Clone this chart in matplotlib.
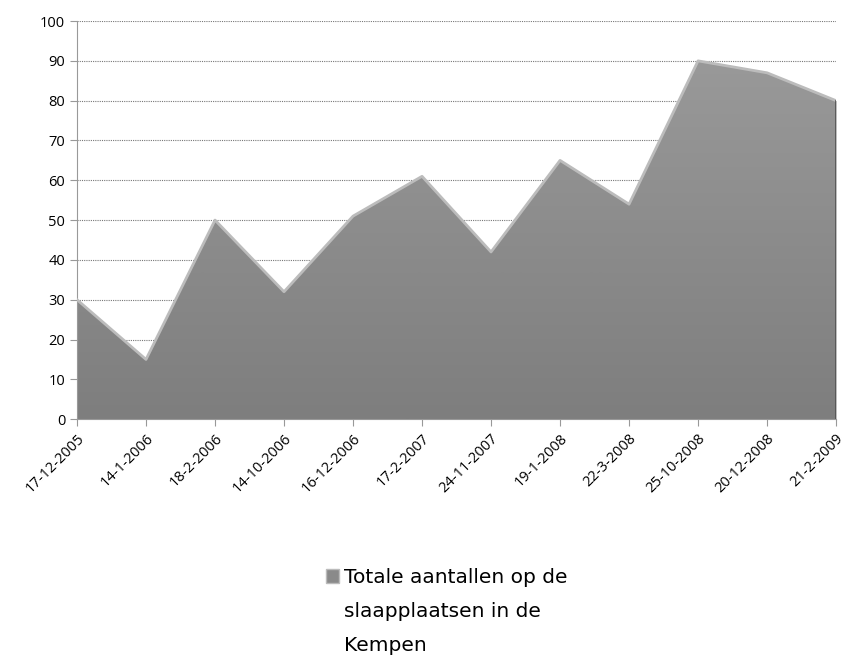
import numpy as np
import matplotlib.pyplot as plt
from matplotlib.patches import Patch
from matplotlib.colors import LinearSegmentedColormap

# Data
dates = ["17-12-2005", "14-1-2006", "18-2-2006", "14-10-2006", "16-12-2006", "17-2-2007",
         "24-11-2007", "19-1-2008", "22-3-2008", "25-10-2008", "20-12-2008", "21-2-2009"]
totals = [30, 15, 50, 32, 51, 61, 42, 65, 54, 90, 87, 80]
legend_lines = ["Totale aantallen op de", "slaapplaatsen in de", "Kempen"]

plt.rcParams['font.family'] = ['Open Sans', 'DejaVu Sans']

fig = plt.figure(figsize=(8.5, 6.58), dpi=100)
ax = fig.add_axes([0.0906, 0.363, 0.893, 0.605])

x = np.arange(len(dates))

# Area with a soft grey gradient clipped to the filled shape
greys = LinearSegmentedColormap.from_list("area", ["#7e7e7e", "#9c9c9c"])
area = ax.fill_between(x, totals, 0, color="#8c8c8c", lw=0, zorder=2)
grad = np.linspace(0, 1, 256).reshape(-1, 1)
img = ax.imshow(grad, cmap=greys, aspect="auto",
                extent=[0, len(dates) - 1, 0, 100], origin="lower", zorder=2)
img.set_clip_path(area.get_paths()[0], transform=ax.transData)
# light top rim
ax.plot(x, totals, color="#bcbcbc", lw=2, zorder=3, solid_joinstyle="round")
ax.plot([x[-1], x[-1]], [0, totals[-1]], color="#505050", lw=1.2, zorder=3)

ax.set_xlim(0, len(dates) - 1)
ax.set_ylim(0, 100)
ax.set_yticks(range(0, 101, 10))
ax.set_xticks(x)
ax.set_xticklabels(dates, rotation=45, ha="right", rotation_mode="anchor", fontsize=10.5)
ax.tick_params(axis="y", labelsize=10.5, length=5, color="#999999", direction="out")
ax.tick_params(axis="x", length=5, color="#999999", direction="out")

ax.grid(axis="y", color="#777777", linestyle=(0, (1, 1)), lw=0.8, zorder=1)
for s in ["top", "right"]:
    ax.spines[s].set_visible(False)
ax.spines["left"].set_color("#999999")
ax.spines["left"].set_linestyle((0, (1, 1)))
ax.spines["bottom"].set_color("#999999")

handles = [Patch(facecolor="#8a8a8a", edgecolor="#bbbbbb"),
           Patch(alpha=0), Patch(alpha=0)]
fig.legend(handles, legend_lines, loc="upper left", bbox_to_anchor=(0.372, 0.152),
           frameon=False, prop={"family": "DejaVu Sans", "size": 14.5},
           handlelength=0.65, handleheight=0.65, handletextpad=0.25,
           labelspacing=0.75, borderpad=0)

plt.savefig("out.png", dpi=100)
